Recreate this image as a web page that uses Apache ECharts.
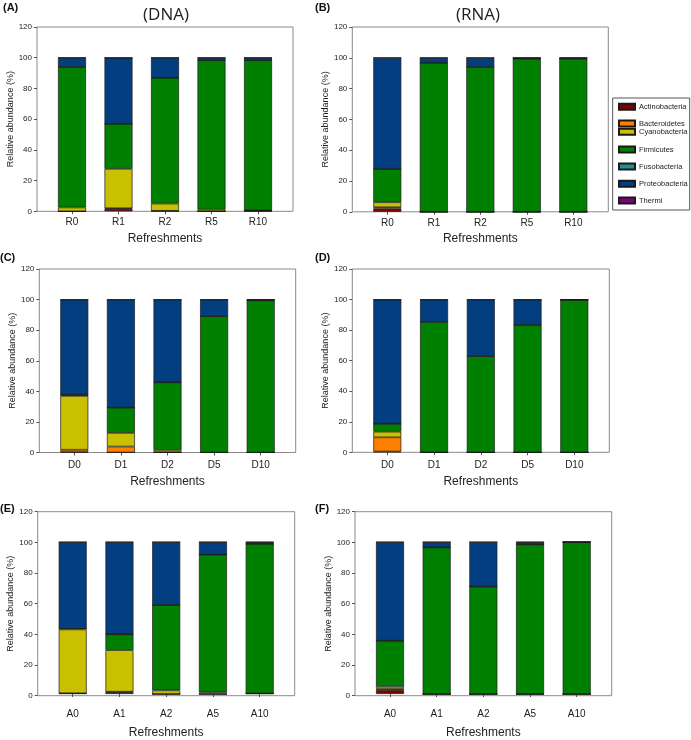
<!DOCTYPE html>
<html>
<head>
<meta charset="utf-8">
<script src="https://cdn.jsdelivr.net/npm/echarts@6/dist/echarts.min.js"></script>
<style>html,body{margin:0;padding:0;background:#fff}#chart{width:691px;height:740px}</style>
</head>
<body>
<div id="chart"></div>
<script>
// ---- data ----
const phyla = ['Actinobacteria','Bacteroidetes','Cyanobacteria','Firmicutes','Fusobacteria','Proteobacteria','Thermi'];
const phylumColors = ['#7f0000','#ff8000','#c8c000','#008000','#1f8f8f','#033f80','#800080'];
const categoriesR = ['R0','R1','R2','R5','R10'];
const categoriesD = ['D0','D1','D2','D5','D10'];
const categoriesA = ['A0','A1','A2','A5','A10'];
const yTicks = [0, 20, 40, 60, 80, 100, 120];
const xAxisTitle = 'Refreshments';
const yAxisTitle = 'Relative abundance (%)';
const columnTitles = ['(DNA)', '(RNA)'];
const panelLabels = ['(A)','(B)','(C)','(D)','(E)','(F)'];

// rows follow phyla order
const dnaR = [
  [0, 1.5, 0.3, 0, 0.3],
  [0, 0.5, 0, 0, 0],
  [2.5, 25.7, 4.7, 1.1, 0.3],
  [91.5, 29.3, 82, 97.4, 97.9],
  [0, 0, 0, 0, 0],
  [6, 43, 13, 1.5, 1.5],
  [0, 0, 0, 0, 0]
];
const rnaR = [
  [2, 0, 0, 0, 0],
  [1, 0, 0, 0, 0],
  [3.2, 0, 0, 0, 0],
  [21.6, 96.7, 94, 99.5, 99.5],
  [0, 0, 0, 0, 0],
  [72.2, 3.3, 6, 0.5, 0.5],
  [0, 0, 0, 0, 0]
];
const dnaD = [
  [0.3, 0, 0, 0, 0],
  [1.5, 3.9, 0.3, 0, 0],
  [35.2, 8.9, 1.4, 0, 0],
  [0.8, 16.6, 44.2, 89.2, 99.5],
  [0, 0, 0, 0, 0],
  [62.2, 70.6, 54.1, 10.8, 0.5],
  [0, 0, 0, 0, 0]
];
const rnaD = [
  [0.5, 0, 0, 0, 0],
  [9.3, 0, 0, 0, 0],
  [3.7, 0, 0, 0, 0],
  [5.2, 85.4, 63, 83.4, 99.8],
  [0, 0, 0, 0, 0],
  [81.3, 14.6, 37, 16.6, 0.2],
  [0, 0, 0, 0, 0]
];
const dnaA = [
  [0.5, 1.2, 0, 0, 0.4],
  [0, 0.3, 0, 0, 0],
  [42, 27.4, 2.4, 1.1, 0],
  [0.8, 10.4, 56.2, 90.7, 98.5],
  [0, 0, 0, 0, 0],
  [56.7, 60.7, 41.4, 8.2, 1.1],
  [0, 0, 0, 0, 0]
];
const rnaA = [
  [2.6, 0, 0, 0, 0],
  [0.7, 0, 0, 0, 0],
  [1.5, 0, 0, 0, 0],
  [30.3, 96.5, 70.7, 98.5, 100],
  [0, 0, 0, 0, 0],
  [64.9, 3.5, 29.3, 1.5, 0],
  [0, 0, 0, 0, 0]
];

// ---- layout ----
const panels = [
  {data: dnaR, cats: categoriesR, L: 37,    T: 27,    W: 256,   H: 184.3, lblMargin: 6,  nameGap: 21, lx: 3,   ly: 8},
  {data: rnaR, cats: categoriesR, L: 352.3, T: 27,    W: 256,   H: 184.8, lblMargin: 6,  nameGap: 21, lx: 315, ly: 8},
  {data: dnaD, cats: categoriesD, L: 39.3,  T: 269,   W: 256.4, H: 183.5, lblMargin: 8,  nameGap: 23, lx: 0,   ly: 258},
  {data: rnaD, cats: categoriesD, L: 352.3, T: 269,   W: 257,   H: 183.3, lblMargin: 8,  nameGap: 23, lx: 315, ly: 258},
  {data: dnaA, cats: categoriesA, L: 37.7,  T: 511.7, W: 257,   H: 184,   lblMargin: 15, nameGap: 33, lx: 0,   ly: 509},
  {data: rnaA, cats: categoriesA, L: 355,   T: 511.7, W: 256.7, H: 184,   lblMargin: 15, nameGap: 33, lx: 315, ly: 509}
];

const FONT = '"Liberation Sans", Arial, sans-serif';
const grid = [], xAxis = [], yAxis = [], series = [];

panels.forEach((p, i) => {
  const s = (p.W - 70) / 4;
  const inset = 35 - s / 2;
  grid.push({left: p.L, top: p.T, width: p.W, height: p.H, show: true, borderColor: '#8a8a8a', borderWidth: 1, backgroundColor: 'transparent'});
  grid.push({left: p.L + inset, top: p.T, width: 5 * s, height: p.H, show: false});
  xAxis.push({gridIndex: 2 * i, type: 'category', data: p.cats, show: false});
  xAxis.push({
    gridIndex: 2 * i + 1, type: 'category', data: p.cats,
    axisLine: {show: false},
    axisTick: {show: true, alignWithLabel: true, length: 3, lineStyle: {color: '#555'}},
    axisLabel: {fontSize: 10, color: '#222', margin: p.lblMargin, fontFamily: FONT},
    name: xAxisTitle, nameLocation: 'middle', nameGap: p.nameGap,
    nameTextStyle: {fontSize: 12, color: '#222', fontFamily: FONT}
  });
  yAxis.push({
    gridIndex: 2 * i, type: 'value', min: yTicks[0], max: yTicks[yTicks.length - 1], interval: yTicks[1] - yTicks[0],
    axisLine: {show: false},
    axisTick: {show: true, length: 3, lineStyle: {color: '#555'}},
    splitLine: {show: false},
    axisLabel: {fontSize: 8, color: '#222', margin: 5, fontFamily: FONT},
    name: yAxisTitle, nameLocation: 'middle', nameGap: 21,
    nameTextStyle: {fontSize: 9, color: '#222', fontFamily: FONT}
  });
  yAxis.push({gridIndex: 2 * i + 1, type: 'value', min: yTicks[0], max: yTicks[yTicks.length - 1], show: false, splitLine: {show: false}});
  phyla.forEach((name, j) => {
    series.push({
      type: 'bar', name: name, stack: 'p' + i,
      xAxisIndex: 2 * i + 1, yAxisIndex: 2 * i + 1,
      data: p.data[j], barWidth: 28,
      itemStyle: {color: phylumColors[j], borderColor: '#1a1a1a', borderWidth: 0.7},
      emphasis: {disabled: true}
    });
  });
});

// legend: one legend per entry to reproduce the uneven spacing
const legendCenters = [107.3, 124, 132.3, 150, 167, 184.3, 201];
const legend = phyla.map((name, j) => ({
  data: [name], left: 618, top: legendCenters[j] - 4.5, padding: 0,
  orient: 'vertical', itemWidth: 16, itemHeight: 6, itemGap: 0,
  icon: 'rect', selectedMode: false,
  textStyle: {fontSize: 7.5, color: '#222', fontFamily: FONT, padding: [0, 0, 0, -1]}
}));

const graphic = [
  {type: 'rect', shape: {x: 612.7, y: 98, width: 77, height: 112}, style: {fill: 'none', stroke: '#555', lineWidth: 1}, z: 0},
  {type: 'text', x: 166, y: 15, style: {text: columnTitles[0], font: '17px "Open Sans", sans-serif', fill: '#222', textAlign: 'center', textVerticalAlign: 'middle'}},
  {type: 'text', x: 478, y: 15, style: {text: columnTitles[1], font: '17px "Open Sans", sans-serif', fill: '#222', textAlign: 'center', textVerticalAlign: 'middle'}}
];
panels.forEach((p, i) => {
  graphic.push({type: 'text', x: p.lx, y: p.ly, style: {text: panelLabels[i], font: 'bold 11px ' + FONT, fill: '#111', textAlign: 'left', textVerticalAlign: 'middle'}});
});

const chart = echarts.init(document.getElementById('chart'));
chart.setOption({
  animation: false,
  backgroundColor: '#fff',
  grid, xAxis, yAxis, series, legend, graphic
});
</script>
</body>
</html>
